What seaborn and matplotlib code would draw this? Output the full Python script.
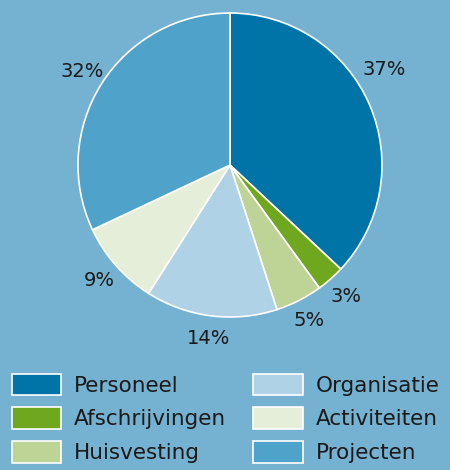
import matplotlib
matplotlib.use("Agg")
import matplotlib.pyplot as plt
import seaborn as sns

categories = ["Personeel", "Afschrijvingen", "Huisvesting", "Organisatie", "Activiteiten", "Projecten"]
shares = [37, 3, 5, 14, 9, 32]
colors = ["#0074a7", "#6fa81f", "#bdd496", "#b0d2e6", "#e5eed8", "#4fa2c9"]

sns.set_theme(style="white")
plt.rcParams['font.family'] = ['DejaVu Sans']
bg = "#75b1d0"

fig = plt.figure(figsize=(4.5, 4.7), dpi=100, facecolor=bg)
ax = fig.add_axes([0.1733, 0.3255, 0.6756, 0.6468])
ax.set_facecolor(bg)

wedges, texts, autotexts = ax.pie(
    shares, colors=colors, startangle=90, counterclock=False,
    autopct='%d%%', pctdistance=1.15, radius=1.0,
    wedgeprops=dict(edgecolor="white", linewidth=1.2),
    textprops=dict(fontsize=14, color="#1a1a1a"))
# the big slice label sits a bit higher in the original
x, y = autotexts[0].get_position()
autotexts[0].set_position((x - 0.04, y + 0.17))
ax.set_xlim(-1, 1)
ax.set_ylim(-1, 1)
ax.set_aspect('equal')
ax.axis('off')

fig.legend(wedges, categories, ncol=2, loc='upper left',
           bbox_to_anchor=(0.026, 0.205), frameon=False,
           fontsize=15.5, handlelength=2.3, handleheight=1.15,
           handletextpad=0.6, labelspacing=0.55, columnspacing=1.25,
           borderaxespad=0, borderpad=0, labelcolor="#1a1a1a")

fig.savefig("out.png", dpi=100, facecolor=bg)
